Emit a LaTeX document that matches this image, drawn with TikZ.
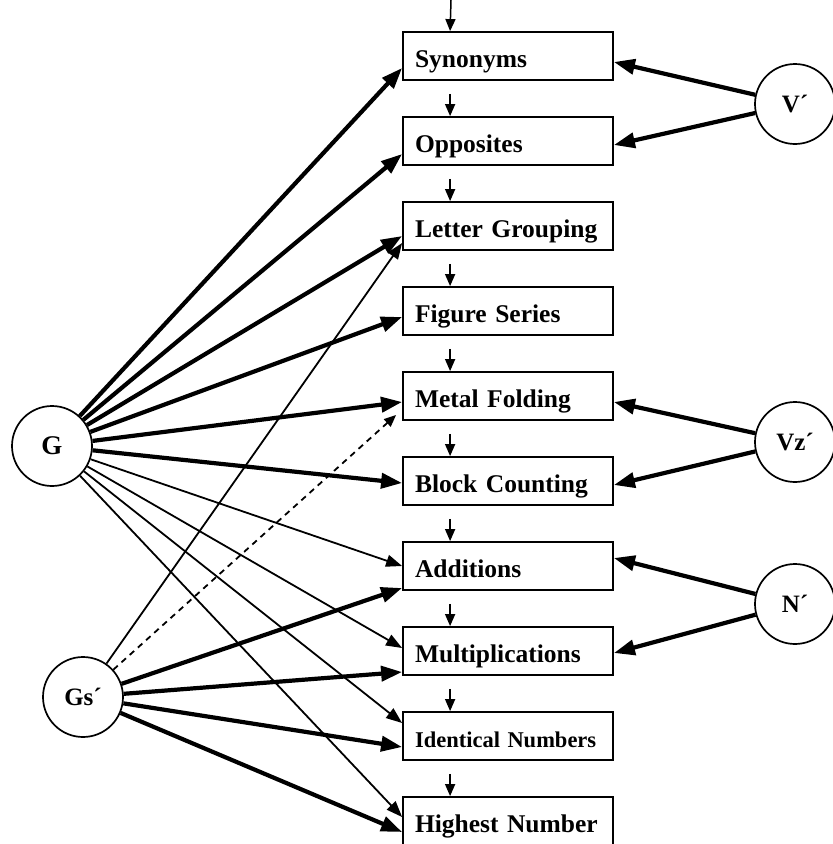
\documentclass[tikz,border=0pt]{standalone}
\usepackage{fontspec}
\setmainfont{Liberation Serif}
\usetikzlibrary{arrows.meta}
\begin{document}
\begin{tikzpicture}[x=1pt,y=-1pt,
 box/.style={draw, line width=1.8pt, minimum height=48pt, text width=186pt, text height=22pt, text depth=0pt, inner xsep=12pt, inner ysep=0pt, align=left, font=\fontsize{25.5}{28}\selectfont\bfseries},
 fac/.style={draw, circle, line width=1.7pt, minimum size=80pt, inner sep=0pt, font=\fontsize{25}{28}\selectfont\bfseries},
 heavy/.style={line width=4.2pt, -{Triangle[length=21pt,width=15pt]}},
 light/.style={line width=1.8pt, -{Triangle[length=16pt,width=12pt]}},
 seqarrow/.style={line width=1.5pt, -{Triangle[length=12pt,width=10pt]}},
 dasharrow/.style={line width=1.8pt, dash pattern=on 6pt off 5pt, -{Triangle[length=12pt,width=10pt]}},
]
\useasboundingbox (0,0) rectangle (833,844);

% boxes
\node[box] (syn) at (508,56) {Synonyms};
\node[box] (opp) at (508,141) {Opposites};
\node[box] (let) at (508,226) {Letter Grouping};
\node[box] (fig) at (508,311) {Figure Series};
\node[box] (met) at (508,396) {Metal Folding};
\node[box] (blo) at (508,481) {Block Counting};
\node[box] (add) at (508,566) {Additions};
\node[box] (mul) at (508,651) {Multiplications};
\node[box, font=\fontsize{22.5}{26}\selectfont\bfseries] (ide) at (508,736) {Identical Numbers};
\node[box] (hig) at (508,821) {Highest Number};

% factors
\node[fac, font=\fontsize{27}{30}\selectfont\bfseries] (G) at (52,446) {G};
\node[fac] (Gs) at (83,697) {Gs\symbol{"00B4}};
\node[fac] (V) at (795,104) {V\symbol{"00B4}};
\node[fac] (Vz) at (795,442) {Vz\symbol{"00B4}};
\node[fac] (N) at (795,604) {N\symbol{"00B4}};

% sequence arrows
\coordinate (top) at (451,0);
\draw[seqarrow] (top) -- ([xshift=48pt]syn.north west);
\foreach \a/\b in {syn/opp, opp/let, let/fig, fig/met, met/blo, blo/add, add/mul, mul/ide, ide/hig}
  \draw[seqarrow] ([xshift=48pt,yshift=-13pt]\a.south west) -- ([xshift=48pt]\b.north west);

% G loadings
\draw[heavy] (G) -- ([yshift=-12pt]syn.west);
\draw[heavy] (G) -- ([yshift=-13pt]opp.west);
\draw[heavy] (G) -- ([yshift=-10pt]let.west);
\draw[heavy] (G) -- ([yshift=-6pt]fig.west);
\draw[heavy] (G) -- ([yshift=-6pt]met.west);
\draw[heavy] (G) -- ([yshift=-2pt]blo.west);
\draw[light] (G) -- ([yshift=0pt]add.west);
\draw[light] (G) -- ([yshift=3pt]mul.west);
\draw[light] (G) -- ([yshift=13pt]ide.west);
\draw[light] (G) -- ([yshift=4pt]hig.west);

% Gs' loadings
\draw[light] (Gs) -- ([yshift=-17pt]let.west);
\draw[dasharrow] (Gs) -- ([xshift=-6pt,yshift=-19pt]met.west);
\draw[heavy] (Gs) -- ([yshift=-22pt]add.west);
\draw[heavy] (Gs) -- ([yshift=-21pt]mul.west);
\draw[heavy] (Gs) -- ([yshift=-11pt]ide.west);
\draw[heavy] (Gs) -- ([yshift=-11pt]hig.west);

% group factors
\draw[heavy] (V) -- ([yshift=-6pt]syn.east);
\draw[heavy] (V) -- ([yshift=-4pt]opp.east);
\draw[heavy] (Vz) -- ([yshift=-6pt]met.east);
\draw[heavy] (Vz) -- ([yshift=-4pt]blo.east);
\draw[heavy] (N) -- ([yshift=8pt]add.east);
\draw[heavy] (N) -- ([yshift=-2pt]mul.east);
\end{tikzpicture}
\end{document}
